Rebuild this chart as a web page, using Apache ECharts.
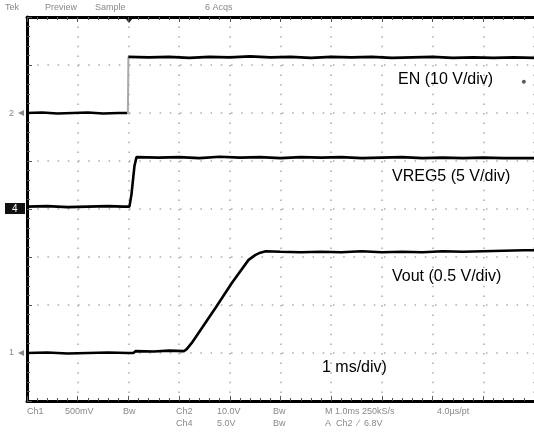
<!DOCTYPE html>
<html><head><meta charset="utf-8">
<script src="https://cdn.jsdelivr.net/npm/echarts@6/dist/echarts.min.js"></script>
<style>html,body{margin:0;padding:0;background:#fff}#c{width:534px;height:432px}</style>
</head><body><div id="c"></div>
<script>
// Horizontal axis: time divisions (1 ms/div), vertical: screen divisions
const xDivs = [0, 10];
const yDivs = [0, 8];
const enLow = [[0,6.0],[0.3,6.01],[0.6,5.99],[0.9,6.0],[1.2,6.01],[1.5,5.99],[1.8,6.0],[1.98,6.0]];
const enEdge = [[1.99,6.0],[2.0,7.17]];
const enHigh = [[2.0,7.17],[2.4,7.16],[2.8,7.17],[3.2,7.15],[3.6,7.17],[4.0,7.16],[4.4,7.18],[4.8,7.16],[5.2,7.17],[5.6,7.15],[6.0,7.17],[6.4,7.16],[6.8,7.17],[7.2,7.15],[7.6,7.16],[8.0,7.17],[8.4,7.15],[8.8,7.16],[9.2,7.15],[9.6,7.16],[10,7.15]];
const vreg5 = [[0,4.05],[0.4,4.06],[0.8,4.04],[1.2,4.05],[1.6,4.06],[1.9,4.05],[2.02,4.05],[2.06,4.3],[2.09,4.6],[2.12,4.9],[2.16,5.08],[2.6,5.07],[3.0,5.08],[3.4,5.06],[3.8,5.09],[4.2,5.07],[4.6,5.08],[5.0,5.06],[5.4,5.08],[5.8,5.07],[6.2,5.08],[6.6,5.06],[7.0,5.07],[7.4,5.08],[7.8,5.06],[8.2,5.07],[8.6,5.06],[9.0,5.07],[9.4,5.06],[9.8,5.06],[10,5.06]];
const vout = [[0,1.0],[0.4,1.01],[0.8,0.99],[1.2,1.0],[1.6,1.01],[2.0,1.0],[2.1,1.0],[2.14,1.04],[2.5,1.03],[2.8,1.05],[3.1,1.04],[3.15,1.08],[3.25,1.21],[3.5,1.6],[3.73,1.96],[4.04,2.46],[4.37,2.94],[4.5,3.04],[4.6,3.09],[4.71,3.12],[5.0,3.11],[5.4,3.1],[5.8,3.11],[6.2,3.1],[6.6,3.12],[7.0,3.1],[7.4,3.11],[7.8,3.1],[8.2,3.12],[8.6,3.11],[9.0,3.12],[9.4,3.13],[9.8,3.14],[10,3.14]];
const glitch = [[9.8,6.65]];
const labels = ["EN (10 V/div)", "VREG5 (5 V/div)", "Vout (0.5 V/div)", "1 ms/div)"];
const header = ["Tek", "Preview", "Sample", "6 Acqs"];
const footer1 = ["Ch1", "500mV", "Bw", "Ch2", "10.0V", "Bw", "M 1.0ms 250kS/s", "4.0µs/pt"];
const footer2 = ["Ch4", "5.0V", "Bw", "A  Ch2  ∕  6.8V"];

const chart = echarts.init(document.getElementById('c'), null, {renderer:'canvas'});
const gridDot = {color:'#aaa', width:1.5, type:[1.5, 8.7]};
const baseX = {
  type:'value', min:xDivs[0], max:xDivs[1], interval:1,
  axisLabel:{show:false},
  axisLine:{show:true, lineStyle:{color:'#000', width:3}},
  axisTick:{show:true, inside:true, length:5, lineStyle:{color:'#555', width:1}},
  minorTick:{show:true, splitNumber:5, length:3, lineStyle:{color:'#555', width:1}},
};
const baseY = {
  type:'value', min:yDivs[0], max:yDivs[1], interval:1,
  axisLabel:{show:false},
  axisLine:{show:true, lineStyle:{color:'#000', width:3}},
  axisTick:{show:true, inside:true, length:5, lineStyle:{color:'#555', width:1}},
  minorTick:{show:true, splitNumber:5, length:3, lineStyle:{color:'#555', width:1}},
};
const lineSer = (data, color, w) => ({type:'line', data, showSymbol:false, symbol:'none', silent:true, animation:false,
  lineStyle:{color, width:w}, xAxisIndex:0, yAxisIndex:0, z:5});

const txt = (text, x, y, size, color, extra) => Object.assign({type:'text', x, y,
  style:{text, fill:color, font: size + 'px "Liberation Sans", Arial, sans-serif', textVerticalAlign:'middle'}}, extra||{});

chart.setOption({
  animation:false,
  backgroundColor:'#fff',
  grid:{left:27, top:17, width:510, height:384, show:false},
  xAxis:[
    Object.assign({}, baseX, {position:'bottom', splitLine:{show:true, lineStyle:Object.assign({}, gridDot, {type:[1.5,8.1]})}}),
    Object.assign({}, baseX, {position:'top', splitLine:{show:false}})
  ],
  yAxis:[
    Object.assign({}, baseY, {position:'left', splitLine:{show:true, lineStyle:Object.assign({}, gridDot, {type:[1.5,8.7]})}})
  ],
  series:[
    lineSer(enLow, '#000', 2.6),
    lineSer(enEdge, '#aaa', 2),
    lineSer(enHigh, '#000', 2.8),
    lineSer(vreg5, '#000', 2.6),
    lineSer(vout, '#000', 2.6),
    {type:'scatter', data:glitch, symbolSize:4, itemStyle:{color:'#333'}, silent:true}
  ],
  graphic:[
    txt(labels[0], 398, 80, 16, '#000'),
    txt(labels[1], 392, 177, 16, '#000'),
    txt(labels[2], 392, 277, 16, '#000'),
    txt(labels[3], 322, 368, 16, '#000'),
    txt(header[0], 5, 8, 9, '#888'),
    txt(header[1], 45, 8, 9, '#888'),
    txt(header[2], 95, 8, 9, '#888'),
    txt(header[3], 205, 8, 9, '#888'),
    txt(footer1[0], 27, 412, 9, '#888'),
    txt(footer1[1], 65, 412, 9, '#888'),
    txt(footer1[2], 123, 412, 9, '#888'),
    txt(footer1[3], 176, 412, 9, '#888'),
    txt(footer1[4], 217, 412, 9, '#888'),
    txt(footer1[5], 273, 412, 9, '#888'),
    txt(footer1[6], 325, 412, 9, '#888'),
    txt(footer1[7], 437, 412, 9, '#888'),
    txt(footer2[0], 176, 424, 9, '#888'),
    txt(footer2[1], 217, 424, 9, '#888'),
    txt(footer2[2], 273, 424, 9, '#888'),
    txt(footer2[3], 325, 424, 9, '#888'),
    txt('2', 9, 114, 9, '#888'),
    {type:'polygon', shape:{points:[[18,113],[24,110],[24,116]]}, style:{fill:'#888'}},
    {type:'rect', shape:{x:5, y:203, width:20, height:11}, style:{fill:'#111'}},
    txt('4', 12, 209, 10, '#fff', {z:10}),
    txt('1', 9, 353, 9, '#888'),
    {type:'polygon', shape:{points:[[18,353],[24,350],[24,356]]}, style:{fill:'#888'}},
    {type:'polygon', shape:{points:[[125,18],[133,18],[129,23]]}, style:{fill:'#222'}}
  ]
});
</script></body></html>
